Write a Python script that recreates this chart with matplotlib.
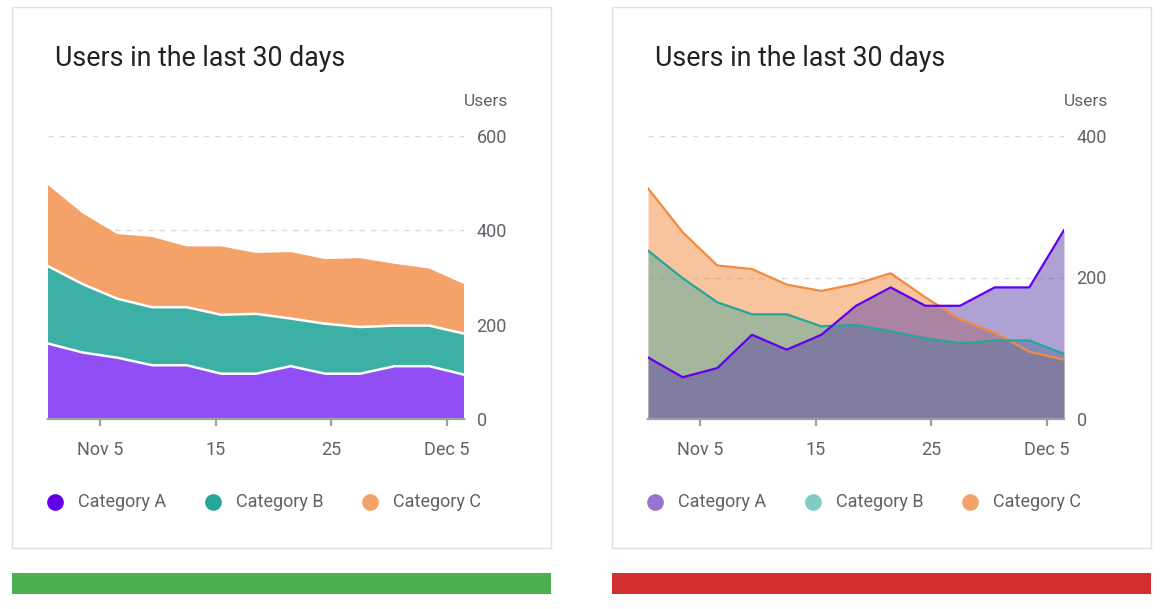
import matplotlib
matplotlib.use('Agg')
import matplotlib.pyplot as plt
from matplotlib.patches import Rectangle
import numpy as np

plt.rcParams['font.family'] = ['Roboto', 'DejaVu Sans']

# ---------------- data ----------------
days = [1, 4, 7, 10, 13, 16, 19, 22, 25, 28, 31, 34, 37]   # Nov 1 .. Dec 7
tick_days = [5.5, 15.5, 25.5, 35.5]                        # mid-day ticks
tick_labels = ['Nov 5', '15', '25', 'Dec 5']
categories = ['Category A', 'Category B', 'Category C']
title = 'Users in the last 30 days'
y_label = 'Users'

# left chart (stacked areas)
stack_a = [160, 141, 130, 114, 114, 96, 96, 112, 96, 96, 112, 112, 94]
stack_b = [164, 145, 125, 123, 123, 125, 127, 101, 106, 99, 86, 86, 87]
stack_c = [172, 150, 137, 149, 129, 145, 129, 141, 137, 146, 131, 121, 105]
left_yticks = [0, 200, 400, 600]

# right chart (overlapping areas)
over_a = [87, 59, 72, 119, 98, 119, 160, 186, 160, 160, 186, 186, 267]
over_b = [238, 199, 165, 148, 148, 131, 133, 124, 114, 107, 111, 111, 92]
over_c = [326, 264, 217, 212, 190, 181, 191, 206, 172, 141, 122, 95, 84]
right_yticks = [0, 200, 400]

# ---------------- styles ----------------
W, H = 1160, 609
TXT = '#5f6368'
AXC = '#9aa0a6'
GRID = '#dadce0'

left_fill = ['#914ef4', '#3db0a5', '#f5a26a']
left_legend = ['#6200ee', '#26a69a', '#f4a26b']
right_fill = ['#5f45a8', '#52aa9a', '#f08a3c']
right_line = ['#6200ee', '#26a69a', '#f28b42']
right_legend = ['#9575cd', '#80cbc4', '#f4a26b']

fig = plt.figure(figsize=(W / 100, H / 100), dpi=100)
bg = fig.add_axes([0, 0, 1, 1], zorder=0)
bg.set_xlim(0, W)
bg.set_ylim(H, 0)
bg.axis('off')


def decorate(ax, ylim, yticks):
    ax.set_facecolor('none')
    ax.set_xlim(days[0], days[-1])
    ax.set_ylim(*ylim)
    ax.set_yticks(yticks)
    ax.set_xticks(tick_days)
    ax.set_xticklabels(tick_labels)
    ax.yaxis.tick_right()
    for s in ['left', 'top', 'right']:
        ax.spines[s].set_visible(False)
    ax.spines['bottom'].set_color(AXC)
    ax.spines['bottom'].set_linewidth(1.6)
    ax.tick_params(axis='y', length=0, pad=9, labelsize=13, labelcolor=TXT)
    ax.tick_params(axis='x', length=5, width=1.6, color=AXC, pad=11,
                   labelsize=13, labelcolor=TXT)
    ax.yaxis.grid(True, linestyle=(0, (4, 4)), color=GRID, linewidth=1)
    ax.set_axisbelow(True)


def card(x0, legend_colors):
    bg.add_patch(Rectangle((x0 + 12, 7), 539, 541, facecolor='white',
                           edgecolor='#e0e0e0', linewidth=1))
    bg.text(x0 + 55, 66.5, title, fontsize=19.3, color='#202124', va='baseline')
    bg.text(x0 + 508, 101, y_label, fontsize=12.5, color=TXT,
            ha='right', va='center')
    for i, (cat, col) in enumerate(zip(categories, legend_colors)):
        cx = x0 + 55 + i * 157.5
        bg.plot([cx], [502], 'o', ms=12, color=col, mec='none')
        bg.text(cx + 23, 502, cat, fontsize=13, color=TXT, va='center')


card(0, left_legend)
card(600, right_legend)
bg.add_patch(Rectangle((12, 573), 539, 21, facecolor='#4caf50', edgecolor='none'))
bg.add_patch(Rectangle((612, 573), 539, 21, facecolor='#d32f2f', edgecolor='none'))

# ---------------- left: stacked ----------------
axl = fig.add_axes([48 / W, 1 - 419 / H, 416 / W, 283 / H], zorder=2)
decorate(axl, (0, 600), left_yticks)
axl.stackplot(days, stack_a, stack_b, stack_c, colors=left_fill, linewidth=0)
cum = np.cumsum([stack_a, stack_b], axis=0)
for row in cum:
    axl.plot(days, row, color='white', linewidth=1.8, solid_joinstyle='round')

# ---------------- right: overlapping ----------------
axr = fig.add_axes([648 / W, 1 - 419 / H, 416 / W, 283 / H], zorder=2)
decorate(axr, (0, 400), right_yticks)
for vals, fc, lc in [(over_c, right_fill[2], right_line[2]),
                     (over_b, right_fill[1], right_line[1]),
                     (over_a, right_fill[0], right_line[0])]:
    axr.fill_between(days, 0, vals, color=fc, alpha=0.5, linewidth=0)
    axr.plot(days, vals, color=lc, linewidth=1.6)

fig.savefig('out.png', dpi=100)
